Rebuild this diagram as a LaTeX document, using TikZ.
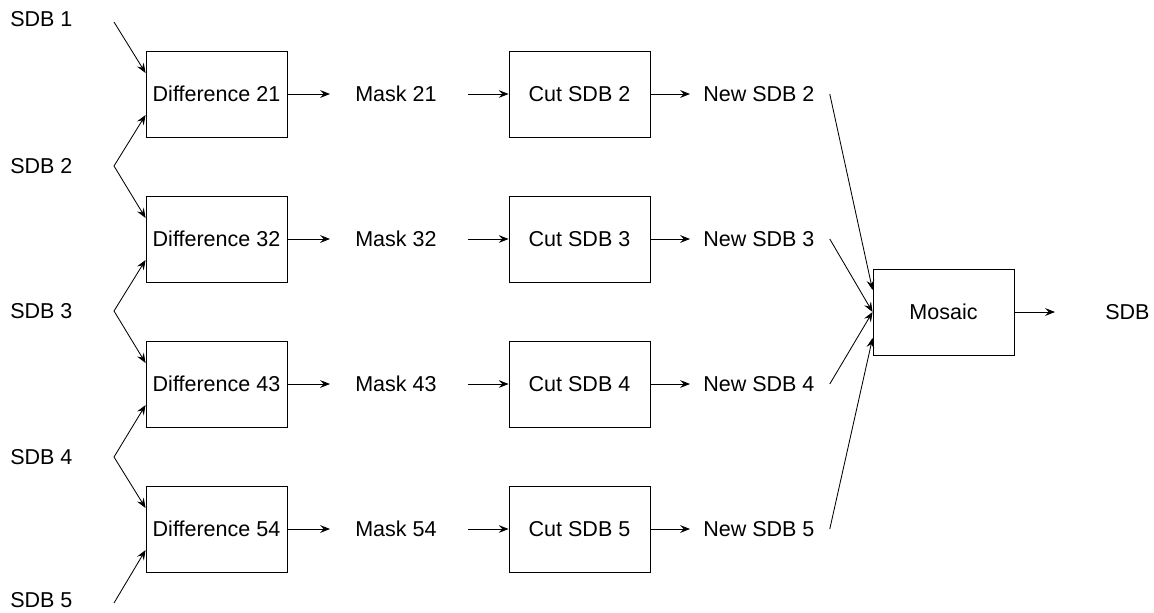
\documentclass[tikz,border=0pt]{standalone}
\usepackage{fontspec}
\setmainfont{Liberation Sans}
\usetikzlibrary{arrows.meta}

\begin{document}
\begin{tikzpicture}[x=0.025cm, y=-0.025cm, font=\fontsize{15.3}{18}\selectfont,
  blok/.style={rectangle, draw, line width=0.6pt, minimum width=3.525cm, minimum height=2.15cm, inner sep=1pt},
  lbl/.style={anchor=west, inner sep=0pt},
  pijl/.style={-{Stealth[length=7pt,width=5.5pt,inset=2.5pt]}, line width=0.6pt}]
\useasboundingbox (0,0) rectangle (1154,612);

\node [lbl] (s1) at (10,19) {SDB 1};
\node [lbl] (s2) at (10,166) {SDB 2};
\node [lbl] (s3) at (10,311) {SDB 3};
\node [lbl] (s4) at (10,457) {SDB 4};
\node [lbl] (s5) at (10,600) {SDB 5};

\coordinate (k1) at (114,22);
\coordinate (k2) at (114,166);
\coordinate (k3) at (114,311);
\coordinate (k4) at (114,457);
\coordinate (k5) at (114,603);

\node [blok] (d21) at (216.5,94) {Difference 21};
\node [blok] (d32) at (216.5,239) {Difference 32};
\node [blok] (d43) at (216.5,384) {Difference 43};
\node [blok] (d54) at (216.5,529) {Difference 54};

\node [lbl] (m21) at (355,94) {Mask 21};
\node [lbl] (m32) at (355,239) {Mask 32};
\node [lbl] (m43) at (355,384) {Mask 43};
\node [lbl] (m54) at (355,529) {Mask 54};

\node [blok] (c2) at (579.5,94) {Cut SDB 2};
\node [blok] (c3) at (579.5,239) {Cut SDB 3};
\node [blok] (c4) at (579.5,384) {Cut SDB 4};
\node [blok] (c5) at (579.5,529) {Cut SDB 5};

\node [lbl] (n2) at (703,94) {New SDB 2};
\node [lbl] (n3) at (703,239) {New SDB 3};
\node [lbl] (n4) at (703,384) {New SDB 4};
\node [lbl] (n5) at (703,529) {New SDB 5};

\node [blok] (mos) at (943.5,312) {Mosaic};
\node [lbl] (sdb) at (1105,312) {SDB};

\draw [pijl] (k1) -- ([yshift=0.525cm]d21.west);
\draw [pijl] (k2) -- ([yshift=-0.525cm]d21.west);
\draw [pijl] (k2) -- ([yshift=0.525cm]d32.west);
\draw [pijl] (k3) -- ([yshift=-0.525cm]d32.west);
\draw [pijl] (k3) -- ([yshift=0.525cm]d43.west);
\draw [pijl] (k4) -- ([yshift=-0.525cm]d43.west);
\draw [pijl] (k4) -- ([yshift=0.525cm]d54.west);
\draw [pijl] (k5) -- ([yshift=-0.525cm]d54.west);

\draw [pijl] (d21.east) -- ([xshift=-0.625cm]m21.west);
\draw [pijl] (d32.east) -- ([xshift=-0.625cm]m32.west);
\draw [pijl] (d43.east) -- ([xshift=-0.625cm]m43.west);
\draw [pijl] (d54.east) -- ([xshift=-0.625cm]m54.west);

\draw [pijl] ([xshift=-1.025cm]c2.west) -- (c2.west);
\draw [pijl] ([xshift=-1.025cm]c3.west) -- (c3.west);
\draw [pijl] ([xshift=-1.025cm]c4.west) -- (c4.west);
\draw [pijl] ([xshift=-1.025cm]c5.west) -- (c5.west);

\draw [pijl] (c2.east) -- ([xshift=-0.325cm]n2.west);
\draw [pijl] (c3.east) -- ([xshift=-0.325cm]n3.west);
\draw [pijl] (c4.east) -- ([xshift=-0.325cm]n4.west);
\draw [pijl] (c5.east) -- ([xshift=-0.325cm]n5.west);

\draw [pijl] ([xshift=0.375cm]n2.east) -- ([yshift=0.55cm]mos.west);
\draw [pijl] ([xshift=0.375cm]n3.east) -- (mos.west);
\draw [pijl] ([xshift=0.375cm]n4.east) -- (mos.west);
\draw [pijl] ([xshift=0.375cm]n5.east) -- ([yshift=-0.65cm]mos.west);

\draw [pijl] (mos.east) -- ([xshift=-1.25cm]sdb.west);
\end{tikzpicture}
\end{document}
